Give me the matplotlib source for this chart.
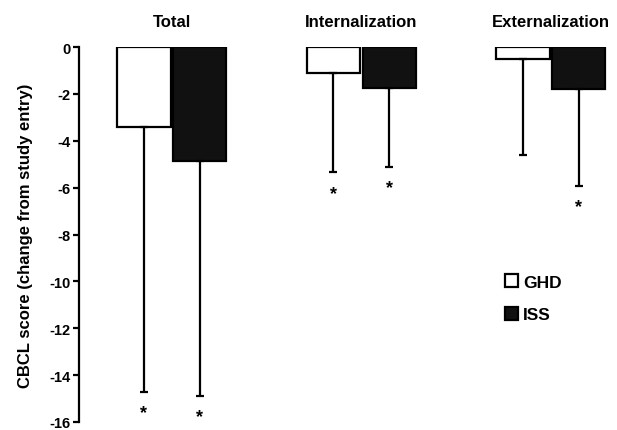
import numpy as np
import matplotlib.pyplot as plt
from matplotlib.patches import Patch

plt.rcParams['font.family'] = ['Liberation Sans', 'DejaVu Sans']
plt.rcParams['font.weight'] = 'bold'

groups = ["Total", "Internalization", "Externalization"]
ghd_mean = [-3.4, -1.1, -0.5]
iss_mean = [-4.85, -1.75, -1.8]
ghd_low = [-14.7, -5.35, -4.62]   # end of the downward error bar
iss_low = [-14.9, -5.1, -5.92]
ghd_sig = [True, True, False]
iss_sig = [True, True, True]
yticks = [0, -2, -4, -6, -8, -10, -12, -14, -16]

fig = plt.figure(figsize=(6.17, 4.31), dpi=100)
ax = fig.add_axes([0.128, 1 - 423 / 431, 0.86, 375 / 431])

x = np.arange(len(groups))
w = 0.28
off = 0.147
ek = dict(ecolor="black", elinewidth=1.6, capsize=3, capthick=1.6)

for xs, mean, low, sig, fc in [(x - off, ghd_mean, ghd_low, ghd_sig, "white"),
                               (x + off, iss_mean, iss_low, iss_sig, "#111111")]:
    mean = np.array(mean)
    low = np.array(low)
    err = [mean - low, np.zeros_like(mean)]
    ax.bar(xs, mean, w, color=fc, edgecolor="black", linewidth=1.6,
           yerr=err, error_kw=ek, zorder=2)
    for xi, lo, s in zip(xs, low, sig):
        if s:
            ax.annotate("*", (xi, lo), xytext=(0, -15), textcoords="offset points",
                        ha="center", va="center", fontsize=13, fontweight="bold")

for xi, g in zip(x, groups):
    ax.text(xi, 1.1, g, ha="center", va="center", fontsize=12, fontweight="bold",
            clip_on=False)

ax.set_xlim(-0.49, 2.31)
ax.set_ylim(-16, 0)
ax.set_yticks(yticks)
ax.set_yticklabels([str(t) for t in yticks], fontsize=10.5, fontweight="bold")
ax.tick_params(axis="y", length=4, width=1.6, pad=2)
ax.set_xticks([])
for s in ["top", "right", "bottom"]:
    ax.spines[s].set_visible(False)
ax.spines["left"].set_linewidth(1.6)
ax.set_ylabel("CBCL score (change from study entry)", fontsize=12, fontweight="bold",
              labelpad=12)

handles = [Patch(facecolor="white", edgecolor="black", linewidth=1.6, label="GHD"),
           Patch(facecolor="#111111", edgecolor="black", linewidth=1.6, label="ISS")]
leg = ax.legend(handles=handles, frameon=False, loc="center left",
                bbox_to_anchor=(0.803, 0.33), handlelength=0.75, handleheight=0.75,
                handletextpad=0.3, labelspacing=1.0, fontsize=12.5,
                borderpad=0, borderaxespad=0)
for t in leg.get_texts():
    t.set_fontweight("bold")

fig.savefig("out.png", dpi=100)
